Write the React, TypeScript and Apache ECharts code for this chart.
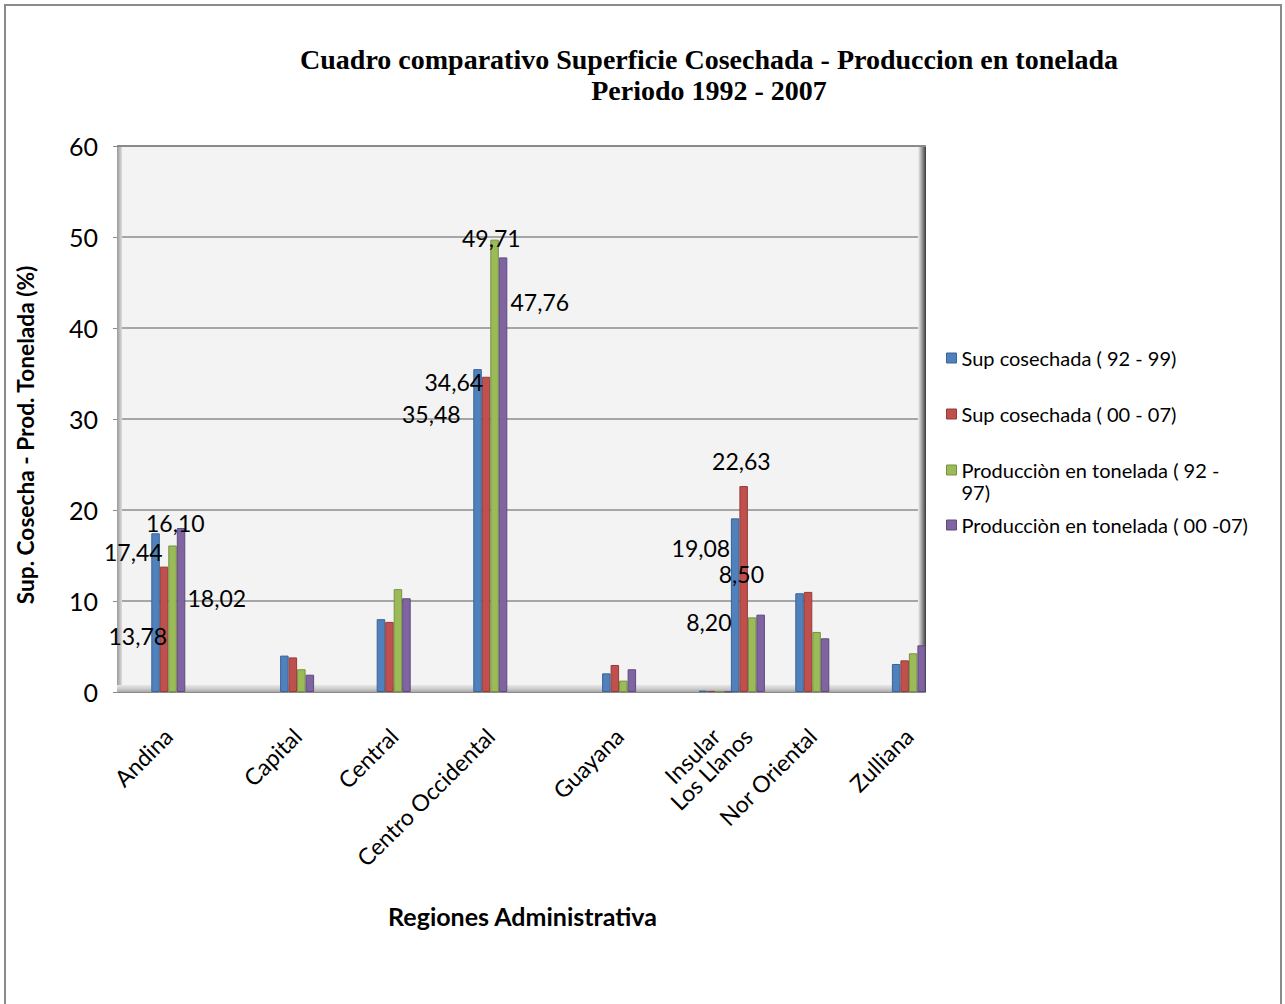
import React, { useEffect, useRef } from "react";
import * as echarts from "echarts";

// Regions (categories) and blank rows that precede each one in the source sheet
const regions = ["Andina", "Capital", "Central", "Centro Occidental", "Guayana", "Insular", "Los Llanos", "Nor Oriental", "Zulliana"];
const blankRowsBefore = [1, 3, 2, 2, 3, 2, 0, 1, 2];
const trailingBlankRows = 0;

const seriesNames = [
  "Sup cosechada ( 92 - 99)",
  "Sup cosechada ( 00 - 07)",
  "Producciòn en tonelada ( 92 - 97)",
  "Producciòn en tonelada ( 00 -07)",
];
const supCosechada9299 = [17.44, 4.0, 8.0, 35.48, 2.05, 0.15, 19.08, 10.85, 3.08];
const supCosechada0007 = [13.78, 3.8, 7.7, 34.64, 2.97, 0.12, 22.63, 11.0, 3.48];
const produccion9297 = [16.1, 2.5, 11.3, 49.71, 1.25, 0.06, 8.2, 6.6, 4.25];
const produccion0007 = [18.02, 1.9, 10.3, 47.76, 2.5, 0.06, 8.5, 5.9, 5.13];
const yTicks = [0, 10, 20, 30, 40, 50, 60];

const labeledRegions = ["Andina", "Centro Occidental", "Los Llanos"];

const colors = ["#4F81BD", "#C0504D", "#9BBB59", "#8064A2"];
const borders = ["#3A6396", "#943C39", "#76913F", "#5F4A7D"];

// manual label placements (label center relative to bar top-left), per series / region
const labelPlacement: Record<number, Record<string, number[]>> = {
  0: { Andina: [-18, 19], "Centro Occidental": [-42, 45], "Los Llanos": [-30, 30] },
  1: { Andina: [-22, 69], "Centro Occidental": [-28, 5], "Los Llanos": [2, -25] },
  2: { Andina: [7, -22], "Centro Occidental": [1, -2], "Los Llanos": [-39, 5] },
  3: { Andina: [40, 70], "Centro Occidental": [41, 45], "Los Llanos": [-15, -41] },
};

const FONT = "Lato";

export default function App() {
  const ref = useRef<HTMLDivElement>(null);
  useEffect(() => {
    if (!ref.current) return;
    const chart = echarts.init(ref.current, undefined, { renderer: "svg" });

    const slots: string[] = [];
    const slotIndex: number[] = [];
    regions.forEach((r, i) => {
      for (let k = 0; k < blankRowsBefore[i]; k++) slots.push("");
      slotIndex.push(slots.length);
      slots.push(r);
    });
    for (let k = 0; k < trailingBlankRows; k++) slots.push("");

    const allValues = [supCosechada9299, supCosechada0007, produccion9297, produccion0007];

    const series = allValues.map((vals, si) => {
      const data: any[] = slots.map(() => "-");
      vals.forEach((v, ri) => {
        const region = regions[ri];
        const item: any = { value: v };
        if (labeledRegions.includes(region)) {
          item.label = {
            show: true,
            position: labelPlacement[si][region],
            align: "center",
            verticalAlign: "middle",
          };
        }
        data[slotIndex[ri]] = item;
      });
      return {
        name: seriesNames[si],
        type: "bar",
        data,
        barWidth: 8.5,
        barGap: "0%",
        itemStyle: { color: colors[si], borderColor: borders[si], borderWidth: 1 },
        label: {
          show: false,
          formatter: (p: any) => Number(p.value).toFixed(2).replace(".", ","),
          color: "#000",
          fontFamily: FONT,
          fontSize: 23,
        },
        z: 3,
      };
    });

    const legendTops = [347, 403, 437, 514];
    const legends = seriesNames.map((n, i) => ({
      data: [n],
      left: 946,
      top: legendTops[i],
      orient: "vertical",
      padding: 0,
      itemWidth: 10,
      itemHeight: 10,
      icon: "rect",
      itemStyle: { borderColor: borders[i], borderWidth: 1 },
      formatter: (name: string) => (name === seriesNames[2] ? "\nProducciòn en tonelada ( 92 -\n97)" : name),
      textStyle: {
        fontFamily: FONT,
        fontSize: 20,
        lineHeight: 22,
        color: "#000",
      },
    }));

    const plotL = 120, plotR = 925, plotT = 146, plotB = 692;

    chart.setOption({
      animation: false,
      backgroundColor: "#fff",
      title: {
        text: "Cuadro comparativo Superficie Cosechada - Produccion en tonelada\nPeriodo 1992 - 2007",
        left: 704,
        top: 39,
        textAlign: "center",
        textStyle: {
          fontFamily: "Liberation Serif",
          fontWeight: "bold",
          fontSize: 28,
          lineHeight: 31,
          color: "#000",
        },
      },
      legend: legends,
      grid: {
        left: plotL,
        right: 1285 - plotR,
        top: plotT,
        bottom: 1004 - plotB,
        show: true,
        backgroundColor: "#f3f3f3",
        borderWidth: 0,
      },
      xAxis: {
        type: "category",
        data: slots,
        boundaryGap: true,
        axisLine: { show: true, lineStyle: { color: "#8a8a8a", width: 2 } },
        axisTick: { show: false },
        axisLabel: {
          interval: 0,
          rotate: 45,
          margin: 40,
          color: "#000",
          fontFamily: FONT,
          fontSize: 23,
        },
        name: "Regiones Administrativa",
        nameLocation: "middle",
        nameGap: 211,
        nameTextStyle: { fontFamily: FONT, fontWeight: "bold", fontSize: 25, color: "#000" },
      },
      yAxis: {
        type: "value",
        min: 0,
        max: 60,
        interval: 10,
        axisLine: { show: true, lineStyle: { color: "#9a9a9a", width: 1 } },
        axisTick: { show: true, length: 7, lineStyle: { color: "#8a8a8a" } },
        axisLabel: {
          color: "#000",
          fontFamily: FONT,
          fontSize: 25,
          margin: 22,
          formatter: (v: number) => (yTicks.includes(v) ? String(v) : ""),
        },
        splitLine: { show: true, lineStyle: { color: "#8c8c8c", width: 1.5 } },
        name: "Sup. Cosecha - Prod. Tonelada (%)",
        nameLocation: "middle",
        nameGap: 83,
        nameTextStyle: {
          fontFamily: FONT,
          fontWeight: "bold",
          fontSize: 22.7,
          color: "#000",
          padding: [0, 32, 0, 0],
        },
      },
      series,
      graphic: [
        {
          type: "rect",
          shape: { x: 5, y: 5, width: 1276, height: 1020 },
          style: { fill: "none", stroke: "#8a8a8a", lineWidth: 2 },
          silent: true,
          z: 0,
        },
        {
          type: "rect",
          shape: { x: plotL - 3, y: plotT, width: 5, height: plotB - plotT },
          style: {
            fill: new echarts.graphic.LinearGradient(0, 0, 1, 0, [
              { offset: 0, color: "#9a9a9a" },
              { offset: 1, color: "#dcdcdc" },
            ]),
          },
          silent: true,
          z: 1,
        },
        {
          type: "rect",
          shape: { x: plotL - 3, y: plotB - 7, width: plotR - plotL + 3, height: 7 },
          style: {
            fill: new echarts.graphic.LinearGradient(0, 0, 0, 1, [
              { offset: 0, color: "#e6e6e6" },
              { offset: 0.5, color: "#cfcfcf" },
              { offset: 1, color: "#a8a8a8" },
            ]),
          },
          silent: true,
          z: 1,
        },
        {
          type: "rect",
          shape: { x: plotR - 7, y: plotT, width: 8, height: plotB - plotT },
          style: {
            fill: new echarts.graphic.LinearGradient(0, 0, 1, 0, [
              { offset: 0, color: "#f3f3f3" },
              { offset: 0.5, color: "#9a9a9a" },
              { offset: 1, color: "#3a3a3a" },
            ]),
          },
          silent: true,
          z: 1,
        },
        {
          type: "line",
          shape: { x1: plotL - 3, y1: plotT, x2: plotR + 1, y2: plotT },
          style: { stroke: "#8a8a8a", lineWidth: 2 },
          silent: true,
          z: 1,
        },
      ],
    });

    return () => chart.dispose();
  }, []);

  return (
    <div
      ref={ref}
      style={{ position: "fixed", left: 0, top: 0, width: 1285, height: 1004, background: "#fff" }}
    />
  );
}
